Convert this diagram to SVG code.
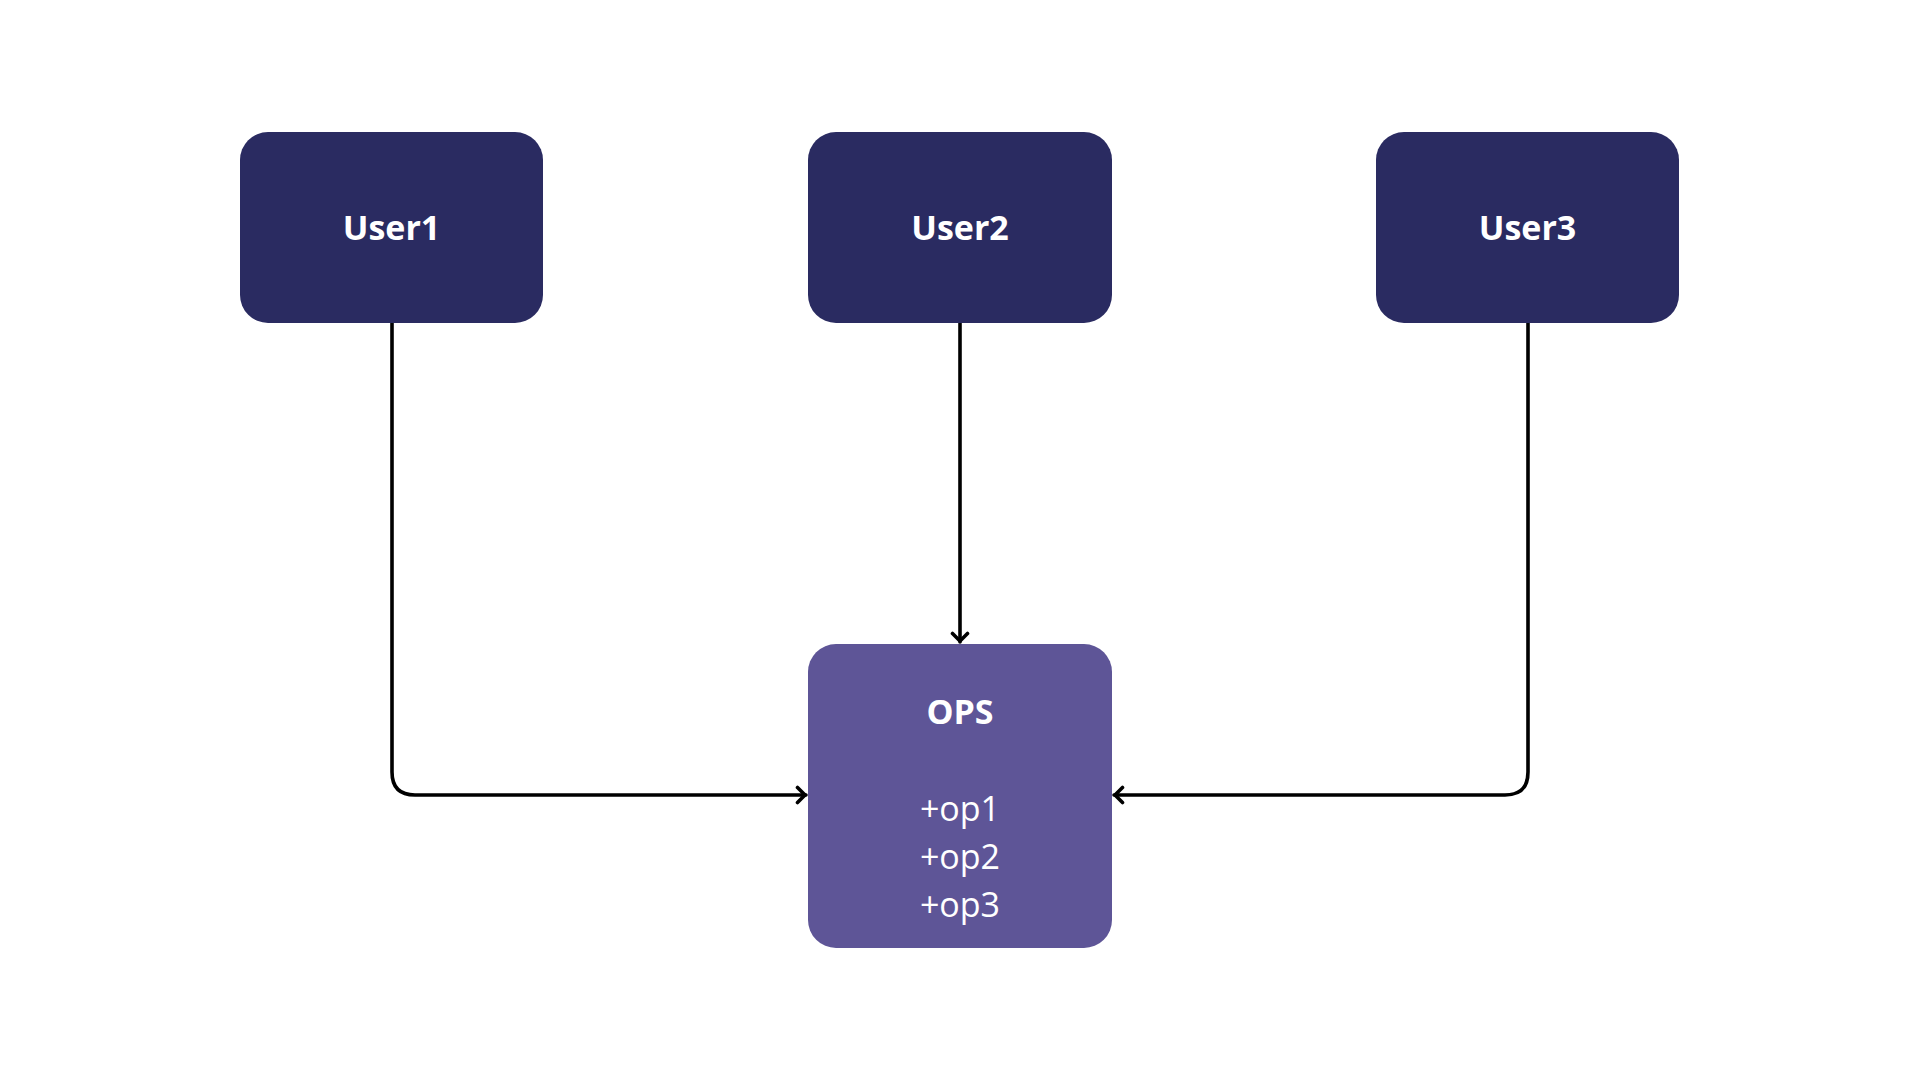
<svg xmlns="http://www.w3.org/2000/svg" width="1920" height="1080" viewBox="0 0 1920 1080">
<style>
.user{fill:#2A2B61}
.ops{fill:#5E5597}
.t{font-family:"Open Sans","Noto Sans",sans-serif;fill:#FFFFFF;text-anchor:middle}
.b{font-weight:700;font-size:34px}
.r{font-weight:400;font-size:34px}
.c{fill:none;stroke:#000000;stroke-width:3.6;stroke-linecap:round;stroke-linejoin:round}
</style>
<defs>
<marker id="arr" viewBox="0 0 14 20" refX="11.5" refY="10" markerWidth="14" markerHeight="20" markerUnits="userSpaceOnUse" orient="auto">
<path d="M3,2.5 L10.5,10 L3,17.5" fill="none" stroke="#000" stroke-width="3.6" stroke-linecap="round" stroke-linejoin="round"/>
</marker>
</defs>
<rect width="1920" height="1080" fill="#FFFFFF"/>
<g id="connectors">
<path class="c" d="M392,323 V772 Q392,795 415,795 H806" marker-end="url(#arr)"/>
<path class="c" d="M960,323 V642" marker-end="url(#arr)"/>
<path class="c" d="M1528,323 V772 Q1528,795 1505,795 H1114" marker-end="url(#arr)"/>
</g>
<g id="user1">
<rect class="user" x="240" y="132" width="303" height="191" rx="28"/>
<text class="t b" x="391.5" y="240">User1</text>
</g>
<g id="user2">
<rect class="user" x="808" y="132" width="304" height="191" rx="28"/>
<text class="t b" x="960" y="240">User2</text>
</g>
<g id="user3">
<rect class="user" x="1376" y="132" width="303" height="191" rx="28"/>
<text class="t b" x="1527.5" y="240">User3</text>
</g>
<g id="ops">
<rect class="ops" x="808" y="644" width="304" height="304" rx="28"/>
<text class="t b" x="960" y="724">OPS</text>
<text class="t r" x="960" y="821">+op1</text>
<text class="t r" x="960" y="869">+op2</text>
<text class="t r" x="960" y="917">+op3</text>
</g>
</svg>
